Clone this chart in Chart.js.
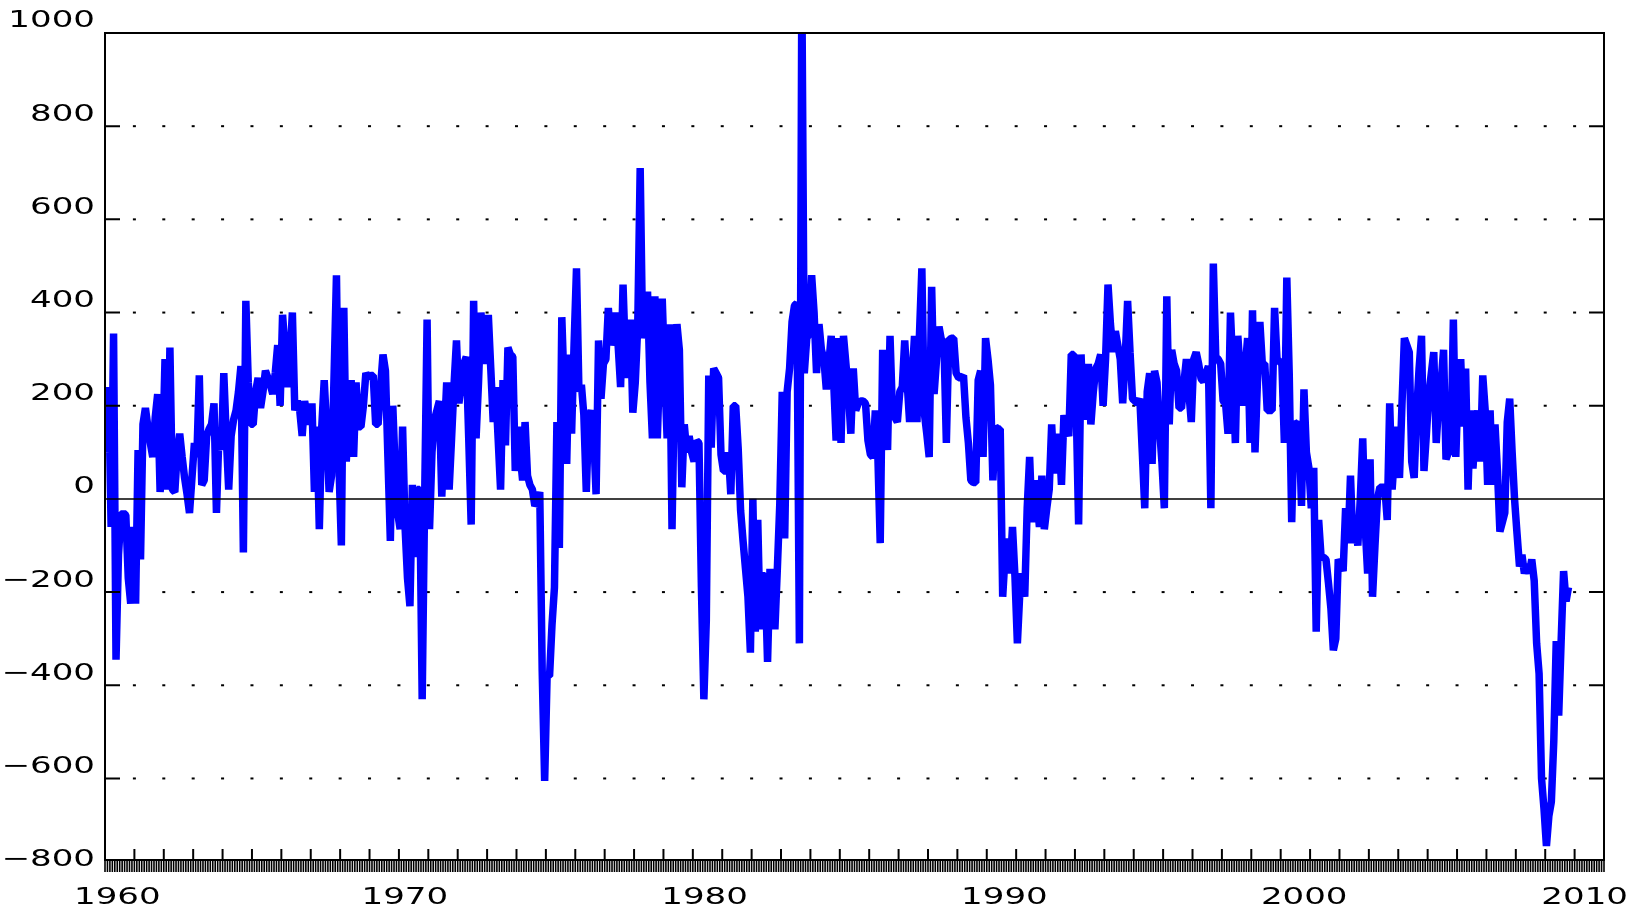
<!DOCTYPE html>
<html>
<head>
<meta charset="utf-8">
<script src="https://cdn.jsdelivr.net/npm/chart.js@4.4.0/dist/chart.umd.min.js"></script>
<style>
  html, body { margin: 0; padding: 0; background: #fff; }
  canvas { display: block; }
</style>
</head>
<body>
<canvas id="carta_payroll" width="1640" height="909"></canvas>
<script>
// monthly change, one value per month starting January 1960
const startYear = 1960
const jobs1960s = [
    100, 240, -60, 355, -345, -120, -35, -30, -35, -170, -225, -60,
    -225, 105, -130, 160, 195, 155, 120, 90, 175, 225, 15, 85,
    300, 20, 325, 20, 15, 100, 140, 90, 45, 10, -30, 45,
    120, 90, 265, 30, 40, 135, 150, 160, 205, -30, 135, 105,
    270, 135, 20, 135, 170, 190, 230, 285, -115, 425, 250, 160,
    160, 230, 260, 195, 230, 275, 260, 245, 225, 270, 330, 200,
    395, 320, 240, 300, 400, 190, 210, 190, 135, 210, 180, 160,
    205, 15, 155, -65, 155, 255, 150, 15, 50, 260, 480, 75,
    -100, 410, 80, 180, 255, 90, 250, 155, 155, 200, 270, 260,
    265, 265, 160, 160, 240, 310, 275, 90, -90, 200, 60, -30
]
const jobs1970s = [
    -65, 155, -60, -170, -230, 30, -125, 20, 20, -430, 0, 385,
    -65, 100, 170, 190, 210, 5, 130, 250, 20, 130, 245, 340,
    205, 250, 290, 305, 130, -55, 425, 130, 250, 400, 290, 340,
    395, 280, 165, 240, 130, 20, 255, 115, 325, 310, 305, 60,
    155, 95, 40, 165, 50, 30, 20, -15, -5, 15, -370, -605,
    -380, -380, -270, -190, 165, -105, 390, 230, 75, 310, 140, 330,
    495, 230, 245, 180, 15, 175, 190, 140, 10, 340, 215, 290,
    300, 410, 330, 350, 400, 330, 240, 460, 300, 260, 385, 185,
    250, 370, 710, 345, 380, 445, 250, 130, 435, 130, 300, 430,
    270, 130, 375, -65, 250, 375, 320, 25, 160, 100, 135, 100
]
const jobs1980s = [
    80, 125, 120, -190, -430, -260, 265, 110, 280, 270, 260, 95,
    60, 60, 100, 10, 200, 200, 110, -25, -90, -150, -210, -330,
    0, -285, -45, -280, -165, -165, -350, -150, -200, -280, -150, -10,
    230, -85, 230, 280, 380, 415, 420, -310, 1110, 270, 345, 355,
    480, 400, 270, 375, 320, 300, 235, 290, 350, 250, 125, 345,
    120, 350, 290, 230, 140, 280, 190, 205, 210, 210, 205, 125,
    95, 90, 190, 100, -95, 320, 200, 105, 350, 185, 175, 165,
    230, 240, 340, 250, 165, 260, 350, 165, 350, 495, 185, 140,
    90, 455, 225, 300, 370, 340, 340, 120, 340, 345, 345, 270,
    260, 260, 265, 175, 120, 40, 35, 35, 255, 275, 90, 345
]
const jobs1990s = [
    300, 245, 40, 155, 150, 150, -210, -120, -85, -160, -60, -165,
    -310, -200, -160, -210, -20, 90, -50, 40, 0, -60, 50, -65,
    -20, 20, 160, 55, 100, 140, 30, 180, 150, 135, 310, 310,
    200, -55, 310, 170, 240, 290, 160, 230, 280, 290, 310, 200,
    300, 460, 375, 315, 360, 330, 300, 205, 300, 425, 315, 215,
    210, 205, 215, 100, -20, 230, 270, 75, 275, 250, 155, 80,
    -20, 435, 160, 320, 290, 275, 195, 195, 250, 300, 230, 165,
    300, 315, 290, 258, 252, 270, 285, -20, 505, 305, 300, 290,
    210, 205, 140, 400, 275, 120, 350, 270, 200, 280, 345, 120,
    405, 100, 250, 380, 290, 290, 190, 190, 190, 410, 300, 295
]
const jobs2000s = [
    290, 120, 475, 265, -50, 165, 160, 160, -15, 235, 100, 67,
    -20, 67, -285, -45, -125, -125, -130, -180, -235, -325, -300, -130,
    -140, -155, -20, -95, 50, -95, -60, -100, 0, 130, -60, -160,
    85, -210, -100, 0, 25, 25, 25, -45, 205, 20, 100, 155,
    45, 200, 345, 330, 315, 80, 45, 185, 280, 350, 60, 140,
    225, 270, 315, 120, 205, 250, 320, 85, 100, 100, 385, 90,
    250, 300, 155, 280, 20, 190, 65, 150, 190, 80, 265, 190,
    30, 190, 30, 160, 60, -70, -50, -30, 165, 215, 100, -2,
    -75, -145, -120, -160, -140, -160, -130, -175, -310, -375, -600, -665,
    -745, -680, -650, -520, -305, -465, -305, -155, -220, -190
]

const xTickYears = [1960, 1970, 1980, 1990, 2000, 2010]
const yTickValues = [1000, 800, 600, 400, 200, 0, -200, -400, -600, -800]
const dottedValues = [800, 600, 400, 200, -200, -400, -600]

const monthly = [...jobs1960s, ...jobs1970s, ...jobs1980s, ...jobs1990s, ...jobs2000s]
// each month sits in the middle of its slot
const points = monthly.map((value, i) => ({ x: startYear + (i + 0.5) / 12, y: value }))

const labelFont = "23px 'DejaVu Sans'"
const stretch = 1.48

function drawWide(ctx, text, x, y, align) {
    ctx.save()
    ctx.translate(x, y)
    ctx.scale(stretch, 1)
    ctx.textAlign = align
    ctx.textBaseline = "middle"
    ctx.fillText(text, 0, 0)
    ctx.restore()
}

const axesPlugin = {
    id: "oldAxes",
    beforeDatasetsDraw(chart) {
        const { ctx, scales: { x, y } } = chart
        ctx.save()
        ctx.fillStyle = "#000"
        dottedValues.forEach(v => {
            const py = y.getPixelForValue(v)
            for (let yr = startYear + 1; yr <= 2010; yr++) {
                ctx.fillRect(x.getPixelForValue(yr) - 1.5, py - 1, 3, 2)
            }
        })
        ctx.restore()
    },
    afterDatasetsDraw(chart) {
        const { ctx, chartArea: a, scales: { x, y, labelYears } } = chart
        ctx.save()
        ctx.strokeStyle = "#000"
        ctx.fillStyle = "#000"

        // zero line
        ctx.lineWidth = 1.5
        const y0 = y.getPixelForValue(0)
        ctx.beginPath()
        ctx.moveTo(a.left, y0)
        ctx.lineTo(a.right, y0)
        ctx.stroke()

        // frame
        ctx.lineWidth = 2
        ctx.strokeRect(a.left, a.top, a.right - a.left, a.bottom - a.top)

        // side ticks
        dottedValues.forEach(v => {
            const py = y.getPixelForValue(v)
            ctx.beginPath()
            ctx.moveTo(a.left, py)
            ctx.lineTo(a.left + 15, py)
            ctx.moveTo(a.right, py)
            ctx.lineTo(a.right - 15, py)
            ctx.stroke()
        })

        // year ticks (up) and month ticks (down)
        for (let yr = startYear; yr <= 2011; yr++) {
            const px = x.getPixelForValue(yr)
            ctx.beginPath()
            ctx.moveTo(px, a.bottom)
            ctx.lineTo(px, a.bottom - 11)
            ctx.stroke()
        }
        ctx.lineWidth = 1.6
        for (let m = 0; m <= (2011 - startYear) * 12; m++) {
            const px = x.getPixelForValue(startYear + m / 12)
            ctx.beginPath()
            ctx.moveTo(px, a.bottom)
            ctx.lineTo(px, a.bottom + 12)
            ctx.stroke()
        }

        // labels sit a little above their grid rows
        ctx.font = labelFont
        yTickValues.forEach(v => {
            const py = y.getPixelForValue(v) - 11.5
            const txt = v < 0 ? "\u2212" + Math.abs(v) : String(v)
            drawWide(ctx, txt, a.left - 10, py, "right")
        })
        xTickYears.forEach(yr => {
            const txt = String(yr)
            const half = ctx.measureText(txt).width * stretch / 2
            let cx = labelYears.getPixelForValue(yr)
            cx = Math.max(cx, 74 + half)
            cx = Math.min(cx, 1628 - half)
            drawWide(ctx, txt, cx, a.bottom + 38, "center")
        })
        ctx.restore()
    }
}

const carta = document.getElementById("carta_payroll")
new Chart(carta, {
    type: "line",
    data: {
        datasets: [{
            label: "Payroll change",
            data: points,
            borderColor: "rgb(0,0,255)",
            borderWidth: 7.5,
            borderJoinStyle: "bevel",
            pointRadius: 0,
            tension: 0,
            fill: false,
            clip: 0
        }]
    },
    options: {
        responsive: false,
        animation: false,
        devicePixelRatio: 1,
        layout: { padding: { left: 105, top: 33, right: 36, bottom: 49 } },
        plugins: {
            legend: { display: false },
            tooltip: { enabled: false }
        },
        scales: {
            x: { type: "linear", min: 1960, max: 2011, display: false },
            labelYears: { type: "linear", axis: "x", position: "bottom", min: 1960, max: 2010, display: false },
            y: { min: -775, max: 1000, display: false }
        }
    },
    plugins: [axesPlugin]
})
</script>
</body>
</html>
